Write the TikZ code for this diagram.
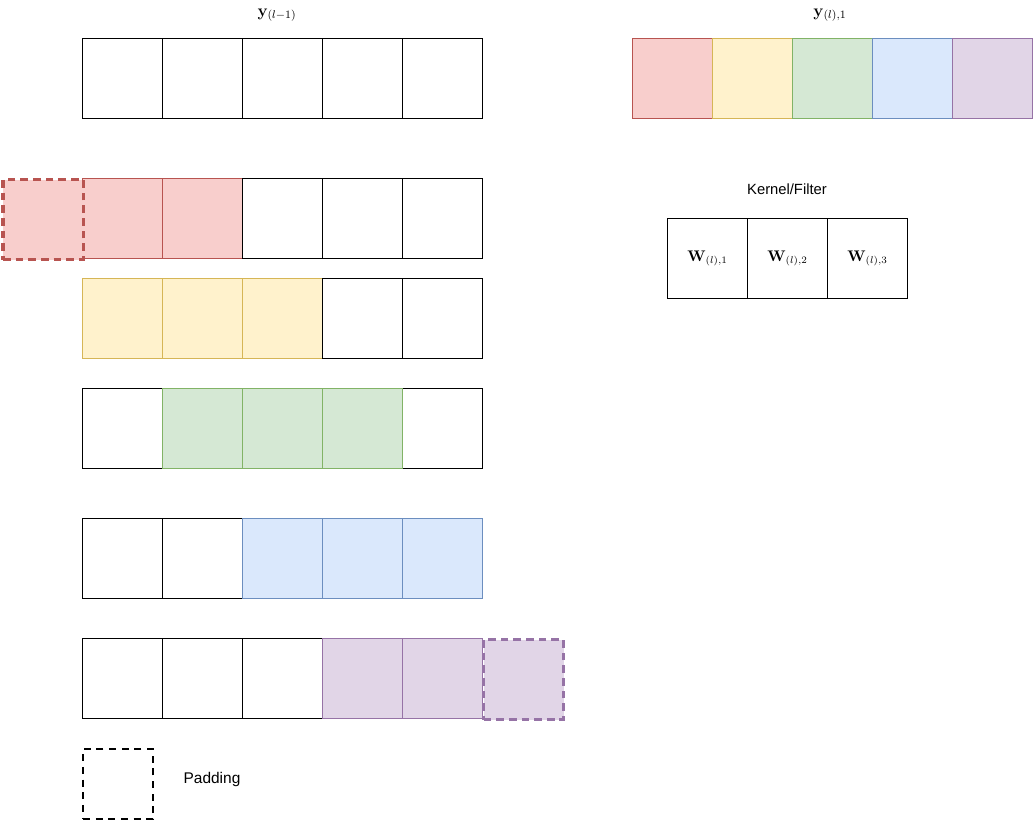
\documentclass[tikz,border=0pt]{standalone}
\usepackage{amsmath}
\usepackage[no-math]{fontspec}
\setmainfont{Liberation Sans}
\definecolor{redF}{HTML}{F8CECC}
\definecolor{redD}{HTML}{B85450}
\definecolor{yellowF}{HTML}{FFF2CC}
\definecolor{yellowD}{HTML}{D6B656}
\definecolor{greenF}{HTML}{D5E8D4}
\definecolor{greenD}{HTML}{82B366}
\definecolor{blueF}{HTML}{DAE8FC}
\definecolor{blueD}{HTML}{6C8EBF}
\definecolor{purpleF}{HTML}{E1D5E7}
\definecolor{purpleD}{HTML}{9673A6}
\tikzset{
    cell/.style={draw=black,fill=white,line width=0.7pt,minimum size=2cm,inner sep=0pt,anchor=north west},
    padcell/.style={cell,line width=2.2pt,dash pattern=on 5.5pt off 3.5pt},
    mathlabel/.style={font=\fontsize{10.5}{12}\selectfont},
    seqlabel/.style={font=\fontsize{12}{14}\selectfont},
    textlabel/.style={font=\fontsize{10.5}{12}\selectfont}
}

\begin{document}
\begin{tikzpicture}[x=0.025cm,y=-0.025cm]
    \useasboundingbox (0,0) rectangle (1034,820);

    % input sequence and output
    \foreach \i in {0,...,4}
        \node[cell] (in\i) at (82+80*\i,38) {};
    \foreach \i/\col in {0/red,1/yellow,2/green,3/blue,4/purple}
        \node[cell,fill=\col F,draw=\col D] (out\i) at (632+80*\i,38) {};
    \node[seqlabel] (inlabel) at (277,15) {$\mathbf{y}_{(l-1)}$};
    \node[seqlabel] (outlabel) at (830,15) {$\mathbf{y}_{(l),1}$};

    % sliding windows
    \foreach \row/\top/\first/\last/\col in {a/178/0/1/red,b/278/0/2/yellow,c/388/1/3/green,d/518/2/4/blue,e/638/3/4/purple}{
        \foreach \i in {0,...,4}
            \node[cell] (\row\i) at (82+80*\i,\top) {};
        \foreach \i in {\first,...,\last}
            \node[cell,fill=\col F,draw=\col D] (\row\i) at (82+80*\i,\top) {};
    }
    \node[cell] (a2) at (242,178) {};
    \node[cell] (b3) at (322,278) {};
    \node[padcell,fill=redF,draw=redD] (apad) at (1.5,178) {};
    \node[padcell,fill=purpleF,draw=purpleD] (epad) at (482,638) {};

    % kernel
    \node[textlabel] (kernellabel) at (787,189) {Kernel/Filter};
    \foreach \i in {1,2,3}
        \node[cell,mathlabel] (k\i) at (587+80*\i,218) {$\mathbf{W}_{(l),\i}$};

    % legend
    \node[padcell,minimum size=1.75cm,line width=1.6pt,dash pattern=on 5pt off 4pt] (legend) at (82,748) {};
    \node[textlabel,font=\fontsize{11}{13}\selectfont] (padlabel) at (212,779) {Padding};
\end{tikzpicture}
\end{document}
